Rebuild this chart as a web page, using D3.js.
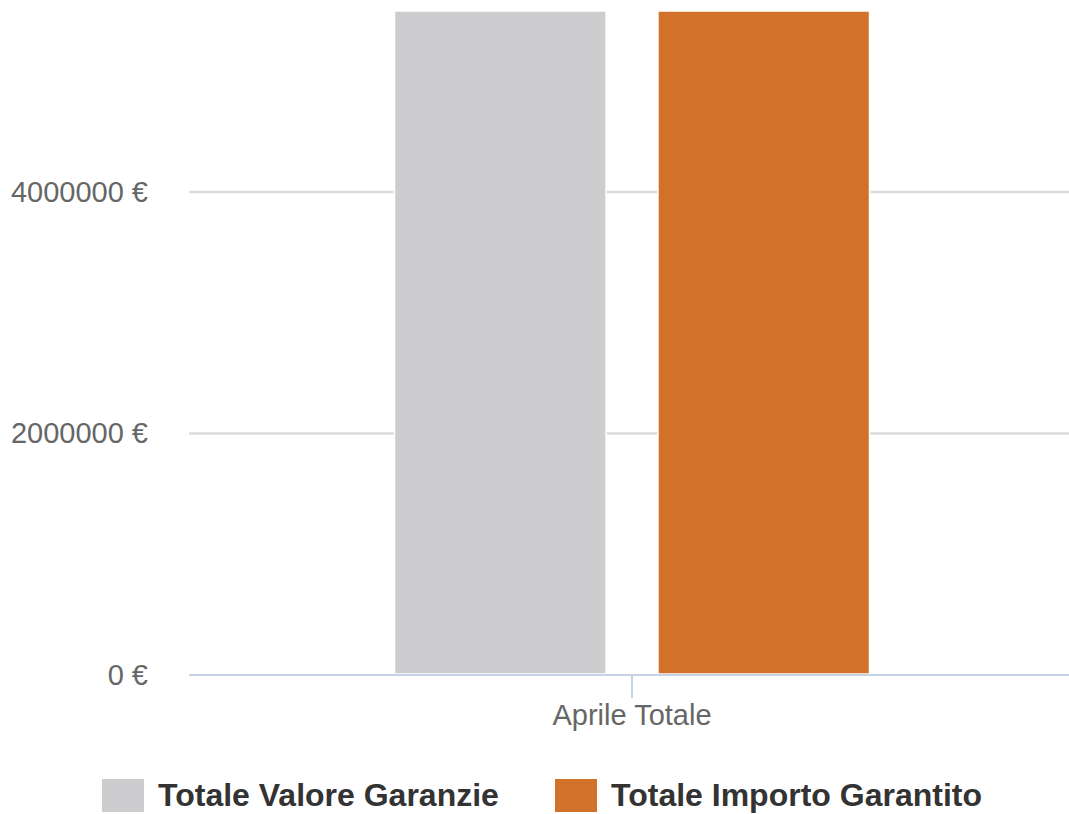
<!DOCTYPE html>
<html>
<head>
<meta charset="utf-8">
<script src="https://cdn.jsdelivr.net/npm/d3@7"></script>
<style>
  body { margin: 0; background: #fff; }
  svg { display: block; font-family: "Liberation Sans", Arial, Helvetica, sans-serif; }
</style>
</head>
<body>
<svg id="chart" width="1069" height="814"></svg>
<script>
// data
const categories = ["Aprile Totale"];
const seriesNames = ["Totale Valore Garanzie", "Totale Importo Garantito"];
const seriesColors = ["#cdcdcf", "#d2722a"];
const valoreGaranzie = [5490000];
const importoGarantito = [5490000];
const yTicks = [0, 2000000, 4000000];
const yMax = 5490000;

const svg = d3.select("#chart");
const plot = {left: 189, right: 1075, top: 11, bottom: 674};

const x = d3.scaleBand().domain(categories).range([plot.left, plot.right]).paddingOuter(0.4326).paddingInner(0);
const xs = d3.scaleBand().domain(seriesNames).range([0, x.bandwidth()]).paddingInner(0.197);
const y = d3.scaleLinear().domain([0, yMax]).range([plot.bottom, plot.top]);

//gridlines (the zero line is the x axis)
svg.append("g").selectAll("line").data(yTicks.filter(d => d > 0)).join("line")
  .attr("x1", plot.left).attr("x2", 1069)
  .attr("y1", d => y(d) + 1).attr("y2", d => y(d) + 1)
  .attr("stroke", "#dcdcdc").attr("stroke-width", 2.5);

//y labels
svg.append("g").selectAll("text").data(yTicks).join("text")
  .attr("x", 148).attr("y", d => y(d) + 11)
  .attr("text-anchor", "end")
  .attr("font-size", 29).attr("fill", "#666")
  .text(d => d + " €");

//bars
const rows = categories.map((c, i) => ({cat: c, vals: [valoreGaranzie[i], importoGarantito[i]]}));
svg.append("g").selectAll("g").data(rows).join("g")
  .attr("transform", d => "translate(" + x(d.cat) + ",0)")
  .selectAll("rect").data(d => d.vals.map((v, j) => ({name: seriesNames[j], v: v, color: seriesColors[j]})))
  .join("rect")
  .attr("x", d => xs(d.name))
  .attr("y", d => y(d.v))
  .attr("width", xs.bandwidth())
  .attr("height", d => y(0) - y(d.v))
  .attr("fill", d => d.color)
  .attr("stroke", "#fff").attr("stroke-width", 1.5);

//x axis line + tick
svg.append("line").attr("x1", plot.left).attr("x2", 1069)
  .attr("y1", plot.bottom + 1).attr("y2", plot.bottom + 1)
  .attr("stroke", "#c6d3e4").attr("stroke-width", 2);
svg.append("g").selectAll("line").data(categories).join("line")
  .attr("x1", d => x(d) + x.bandwidth() / 2).attr("x2", d => x(d) + x.bandwidth() / 2)
  .attr("y1", plot.bottom).attr("y2", plot.bottom + 24)
  .attr("stroke", "#c6d3e4").attr("stroke-width", 2);
svg.append("g").selectAll("text").data(categories).join("text")
  .attr("x", d => x(d) + x.bandwidth() / 2).attr("y", 725)
  .attr("text-anchor", "middle")
  .attr("font-size", 29).attr("fill", "#666")
  .text(d => d);

//legend
const legendX = [102, 555];
const legend = svg.append("g").selectAll("g").data(seriesNames).join("g")
  .attr("transform", (d, i) => "translate(" + legendX[i] + ",779)");
legend.append("rect").attr("width", 42).attr("height", 33)
  .attr("fill", (d, i) => seriesColors[i]);
legend.append("text").attr("x", 56).attr("y", 27)
  .attr("font-size", 32).attr("font-weight", "bold").attr("fill", "#333")
  .text(d => d);
</script>
</body>
</html>
